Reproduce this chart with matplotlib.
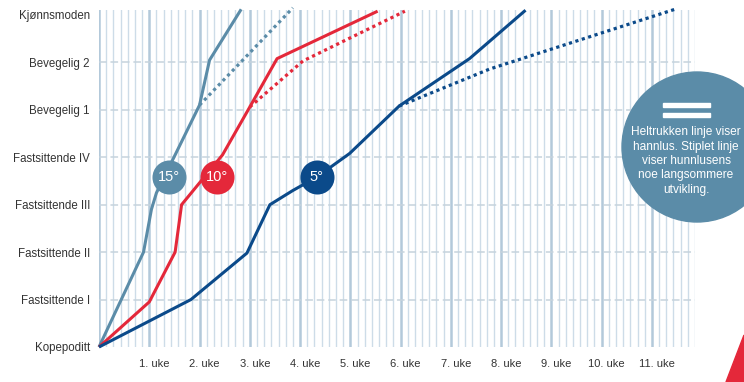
import matplotlib
matplotlib.use("Agg")
import matplotlib.pyplot as plt
from matplotlib.patches import Ellipse, Rectangle, Polygon
from matplotlib.transforms import ScaledTranslation

plt.rcParams['font.family'] = ['Liberation Sans', 'DejaVu Sans']

# utviklingsstadier og uker
stages = ["Kopepoditt", "Fastsittende I", "Fastsittende II", "Fastsittende III",
          "Fastsittende IV", "Bevegelig 1", "Bevegelig 2", "Kjønnsmoden"]
week_labels = ["1. uke", "2. uke", "3. uke", "4. uke", "5. uke", "6. uke",
               "7. uke", "8. uke", "9. uke", "10. uke", "11. uke"]
n_days = 83

# hannlus (heltrukken) og hunnlus (stiplet), dager etter kopepoditt
days_15 = [0, 6.2, 7.3, 8.0, 10.6, 14.0, 15.4, 19.8]
stage_15 = [0, 2.0, 2.9, 3.25, 4.05, 5.1, 6.05, 7.12]
days_15_f = [14.0, 27.0]
stage_15_f = [5.1, 7.15]

days_10 = [0, 7.0, 10.6, 11.5, 17.2, 21.0, 24.8, 38.8]
stage_10 = [0, 0.95, 2.0, 3.0, 4.05, 5.06, 6.08, 7.08]
days_10_f = [21.0, 28.4, 42.6]
stage_10_f = [5.06, 6.03, 7.08]

days_5 = [0, 12.8, 20.6, 23.8, 27.0, 30.3, 34.9, 41.8, 51.6, 59.4]
stage_5 = [0, 1.0, 1.98, 3.0, 3.3, 3.58, 4.08, 5.08, 6.08, 7.1]
days_5_f = [41.8, 54.4, 80.2]
stage_5_f = [5.08, 5.86, 7.12]

temps = ["15°", "10°", "5°"]
colors = ["#5b8ca8", "#e4283a", "#0b4a8a"]
badge_x = [9.7, 16.4, 30.3]
badge_y = 3.58

W, H = 744, 382
fig = plt.figure(figsize=(W / 100, H / 100), dpi=100)
ax = fig.add_axes([99 / W, 35 / H, (695 - 99) / W, (347 - 10) / H])
ax.set_xlim(0, n_days)
ax.set_ylim(0, 7.105)

# rutenett: en linje per dag, tykkere per uke
for d in range(n_days + 1):
    if d % 7 == 0:
        ax.axvline(d, color="#b3c9da", lw=1.8, zorder=1)
    else:
        ax.axvline(d, color="#cddce8", lw=1.0, zorder=1)
for lev in range(1, 7):
    ax.axhline(lev, color="#c6d3dd", lw=1.1, ls=(0, (5, 2.5)), zorder=1.5)

series = [(days_15, stage_15, days_15_f, stage_15_f),
          (days_10, stage_10, days_10_f, stage_10_f),
          (days_5, stage_5, days_5_f, stage_5_f)]
for (dx, sy, fx, fy), c in zip(series, colors):
    ax.plot(dx, sy, color=c, lw=2.2, solid_capstyle="butt", zorder=3, clip_on=False)
    ax.plot(fx, fy, color=c, lw=2.3, ls=(0, (1, 1.1)), zorder=3, clip_on=False)

for t, bx, c in zip(temps, badge_x, colors):
    ax.plot(bx, badge_y, "o", ms=24.5, color=c, mec="none", zorder=4)
    ax.text(bx, badge_y, t, color="white", fontsize=10.5, ha="center",
            va="center", zorder=5)

ax.set_yticks(range(len(stages)), labels=stages)
ax.set_xticks([7 * (i + 1) for i in range(len(week_labels))], labels=week_labels)
ax.tick_params(axis="y", length=0, pad=6.5, labelsize=8.3, labelcolor="#333333")
ax.tick_params(axis="x", length=0, pad=8.5, labelsize=8, labelcolor="#333333")
for lab in ax.get_xticklabels():
    lab.set_transform(lab.get_transform() + ScaledTranslation(0.05, 0, fig.dpi_scale_trans))
for s in ax.spines.values():
    s.set_visible(False)

# forklaringssirkel
fig.patches.append(Ellipse((697 / W, 1 - 147 / H), 150 / W, 150 / H,
                           transform=fig.transFigure, color="#5b8ca8", zorder=6))
for y0 in (103, 113):
    fig.patches.append(Rectangle((663 / W, 1 - (y0 + 4) / H), 47 / W, 4 / H,
                                 transform=fig.transFigure, color="white", zorder=7))
fig.text(686 / W, 1 - 161 / H,
         "Heltrukken linje viser\nhannlus. Stiplet linje\nviser hunnlusens\n"
         "noe langsommere\nutvikling.",
         color="white", fontsize=8.6, ha="center", va="center", linespacing=1.25,
         family=["Liberation Sans Narrow", "Liberation Sans", "DejaVu Sans"], zorder=8)

# rødt hjørne
fig.patches.append(Polygon([(744 / W, 1 - 335 / H), (726 / W, 0), (1, 0)],
                           closed=True, transform=fig.transFigure,
                           color="#e4283a", zorder=6))

fig.savefig("out.png", dpi=100)
